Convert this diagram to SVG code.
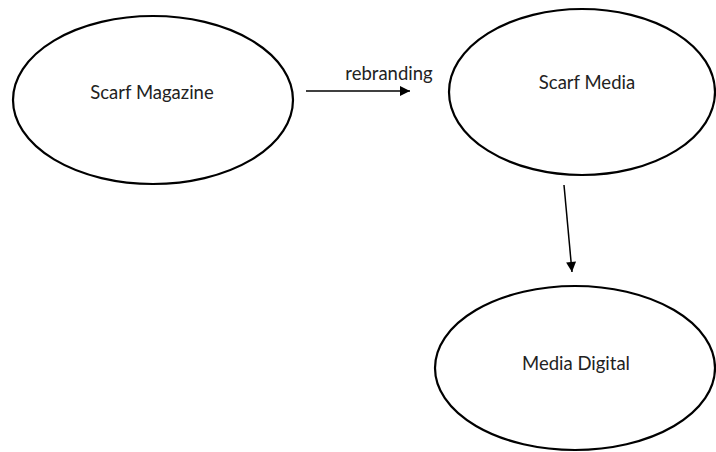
<svg xmlns="http://www.w3.org/2000/svg" width="716" height="452" viewBox="0 0 716 452">
<style>
.n{fill:#fff;stroke:#000;stroke-width:2.2}
.t{font-family:Lato,"Open Sans","Liberation Sans",sans-serif;font-size:18.5px;fill:#222;text-anchor:middle}
.c{stroke:#000;stroke-width:1.5;fill:none}
</style>
<defs>
<marker id="ah" viewBox="0 0 10 10" refX="10" refY="5" markerWidth="12" markerHeight="10" markerUnits="userSpaceOnUse" orient="auto">
<path d="M0,0 L10,5 L0,10 Z" fill="#000"/>
</marker>
</defs>
<rect width="716" height="452" fill="#fff"/>
<g id="scarf-magazine">
<ellipse class="n" cx="153" cy="100" rx="140" ry="84"/>
<text class="t" x="152" y="99">Scarf Magazine</text>
</g>
<g id="scarf-media">
<ellipse class="n" cx="582" cy="92" rx="133" ry="83"/>
<text class="t" x="587" y="89">Scarf Media</text>
</g>
<g id="media-digital">
<ellipse class="n" cx="575" cy="368" rx="140" ry="82"/>
<text class="t" x="576" y="370">Media Digital</text>
</g>
<g id="connectors">
<line class="c" x1="306" y1="91" x2="410" y2="91" marker-end="url(#ah)"/>
<text class="t" x="389" y="80">rebranding</text>
<line class="c" x1="564" y1="185" x2="572" y2="272" marker-end="url(#ah)"/>
</g>
</svg>
